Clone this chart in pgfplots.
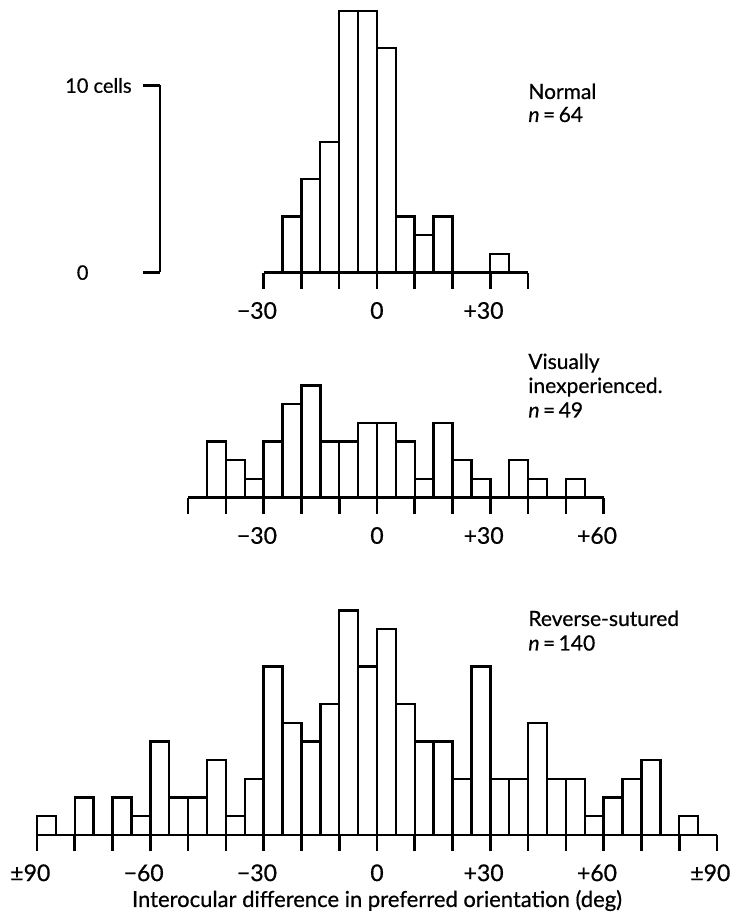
\documentclass[border=0pt]{standalone}
\usepackage{fontspec}
\setmainfont{Lato}[FakeBold=0.6]
\usepackage{pgfplots}
\pgfplotsset{compat=1.18}
\begin{document}
\fontsize{10.5}{12}\selectfont
\begin{tikzpicture}
\useasboundingbox (0,0) rectangle (365.5pt,457pt);
\pgfplotsset{
  hist/.style={
    scale only axis, clip=false,
    axis y line=none, axis x line*=bottom,
    x axis line style={-, line width=1.4pt},
    tick align=outside, major tick length=8pt,
    every tick/.style={black, line width=1.3pt},
    ymin=0, anchor=south west,
    /pgf/number format/assume math mode=true,
    xticklabel style={font=\fontsize{11.5}{13}\selectfont, inner sep=0pt, anchor=north, yshift=-6.5pt},
  },
  bars/.style={ybar interval, fill=white, draw=black, line width=1.2pt},
}
% scale bar
\begin{axis}[scale only axis, clip=false, width=10pt, height=93.5pt,
  at={(80pt,320.75pt)}, anchor=south west,
  xmin=0, xmax=1, ymin=0, ymax=10,
  axis x line=none, axis y line*=left,
  y axis line style={-, line width=1.3pt},
  tick align=outside, major tick length=8.5pt,
  every tick/.style={black, line width=1.3pt},
  ytick={0,10}, yticklabels={0\phantom{ cells},10 cells},
  yticklabel style={font=\fontsize{10}{12}\selectfont, inner sep=0pt, anchor=east, xshift=-5.5pt}]
\addplot[draw=none] coordinates {(0,0)};
\end{axis}
% Normal
\begin{axis}[hist, width=132.2pt, height=130.9pt, at={(131.8pt,320.65pt)},
  xmin=-30, xmax=40, ymax=14,
  xtick={-30,-20,...,40},
  xticklabels={\llap{−}30,,,0,,,\llap{+}30,}]
\addplot[bars] coordinates {(-25,3) (-20,5) (-15,7) (-10,14) (-5,14) (0,12) (5,3) (10,2) (15,3) (20,0) (25,0) (30,1) (35,0)};
\end{axis}
% Visually inexperienced
\begin{axis}[hist, width=207.8pt, height=56.1pt, at={(94.05pt,208.15pt)},
  xmin=-50, xmax=60, ymax=6,
  xtick={-50,-40,...,60},
  xticklabels={,,\llap{−}30,,,0,,,\llap{+}30,,,\llap{+}60}]
\addplot[bars] coordinates {(-45,3) (-40,2) (-35,1) (-30,3) (-25,5) (-20,6) (-15,3) (-10,3) (-5,4) (0,4) (5,3) (10,1) (15,4) (20,2) (25,1) (30,0) (35,2) (40,1) (45,0) (50,1) (55,0)};
\end{axis}
% Reverse-sutured
\begin{axis}[hist, width=340pt, height=112.2pt, at={(18.5pt,39.5pt)},
  xmin=-90, xmax=90, ymax=12,
  xtick={-90,-80,...,90},
  xticklabels={\llap{±}90,,,\llap{−}60,,,\llap{−}30,,,0,,,\llap{+}30,,,\llap{+}60,,,\llap{±}90}]
\addplot[bars] coordinates {(-90,1) (-85,0) (-80,2) (-75,0) (-70,2) (-65,1) (-60,5) (-55,2) (-50,2) (-45,4) (-40,1) (-35,3) (-30,9) (-25,6) (-20,5) (-15,7) (-10,12) (-5,9) (0,11) (5,7) (10,5) (15,5) (20,3) (25,9) (30,3) (35,3) (40,6) (45,3) (50,3) (55,1) (60,2) (65,3) (70,4) (75,0) (80,1) (85,0) (90,0)};
\end{axis}
% texts
\node[anchor=base west, inner sep=0pt] at (264pt,407.5pt) {Normal};
\node[anchor=base west, inner sep=0pt] at (264pt,396pt) {\textit{n}\,=\,64};
\node[anchor=base west, inner sep=0pt] at (264pt,272.5pt) {Visually};
\node[anchor=base west, inner sep=0pt] at (264pt,260.5pt) {inexperienced.};
\node[anchor=base west, inner sep=0pt] at (264pt,248.25pt) {\textit{n}\,=\,49};
\node[anchor=base west, inner sep=0pt] at (264pt,144pt) {Reverse-sutured};
\node[anchor=base west, inner sep=0pt] at (264pt,131.75pt) {\textit{n}\,=\,140};
\node[anchor=base, inner sep=0pt, font=\fontsize{11}{13}\selectfont] at (188.5pt,3.5pt) {Interocular difference in preferred orientation (deg)};
\end{tikzpicture}
\end{document}
